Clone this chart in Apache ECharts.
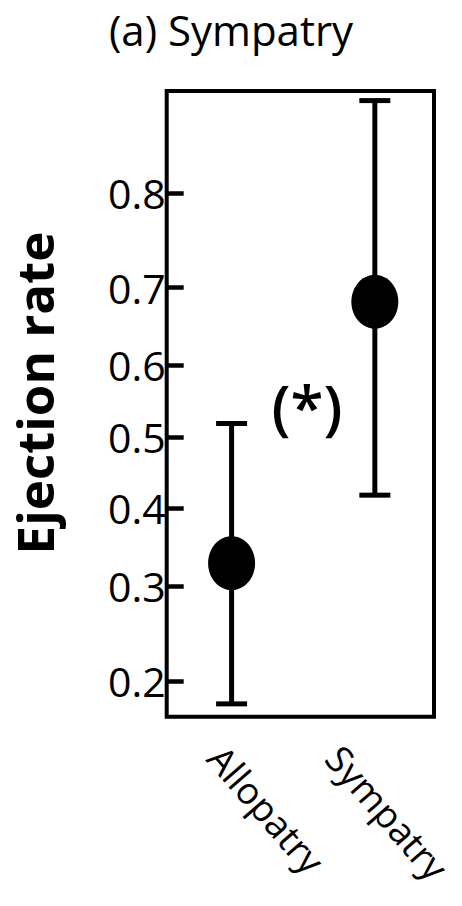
<!DOCTYPE html>
<html>
<head>
<meta charset="utf-8">
<script src="https://cdn.jsdelivr.net/npm/echarts@6/dist/echarts.min.js"></script>
<style>
html,body{margin:0;padding:0;background:#fff;}
#chart{width:462px;height:906px;}
</style>
</head>
<body>
<div id="chart"></div>
<script>
// ---- data ----
const categories = ['Allopatry', 'Sympatry'];
const means = [0.328, 0.683];
const lowerCI = [0.180, 0.418];
const upperCI = [0.519, 0.871];
const yTicks = [0.2, 0.3, 0.4, 0.5, 0.6, 0.7, 0.8];
const yRange = [0.1695, 0.877];
const titleText = '(a) Sympatry';
const yAxisTitle = 'Ejection rate';
const annotation = '(*)';

const logit = p => Math.log(p / (1 - p));
const FONT = "'Open Sans', 'Liberation Sans', sans-serif";

const chart = echarts.init(document.getElementById('chart'), null, {renderer: 'svg'});

const errData = categories.map((c, i) => [i, logit(lowerCI[i]), logit(upperCI[i])]);
const meanData = categories.map((c, i) => [i, logit(means[i])]);
const tickVals = yTicks.map(logit);

chart.setOption({
  animation: false,
  backgroundColor: '#fff',
  title: {
    text: titleText,
    left: 'center',
    top: 3,
    textStyle: {fontFamily: FONT, fontSize: 42, fontWeight: 'normal', color: '#000'}
  },
  grid: {
    left: 166.7, right: 28, top: 91, bottom: 189.3,
    containLabel: false, outerBoundsMode: 'none',
    show: true, borderColor: '#000', borderWidth: 4, backgroundColor: 'transparent'
  },
  xAxis: [{
    type: 'value', min: -0.453, max: 1.413,
    axisLine: {show: false, onZero: false}, axisTick: {show: false}, axisLabel: {show: false},
    splitLine: {show: false}
  }, {
    type: 'value', min: -0.418, max: 1.847, position: 'bottom',
    axisLine: {show: false, onZero: false}, axisTick: {show: false}, splitLine: {show: false},
    axisLabel: {
      customValues: [0, 1],
      formatter: v => categories[Math.round(v)],
      rotate: -49, margin: 34, lineHeight: 36,
      fontFamily: FONT, fontSize: 37, color: '#000'
    }
  }],
  yAxis: {
    type: 'value', min: logit(yRange[0]), max: logit(yRange[1]),
    axisLine: {show: false, onZero: false},
    splitLine: {show: false},
    axisTick: {
      show: true, inside: true, length: 17, customValues: tickVals,
      lineStyle: {color: '#000', width: 4.5}
    },
    axisLabel: {
      customValues: tickVals,
      formatter: v => {
        let best = 0;
        tickVals.forEach((t, i) => { if (Math.abs(t - v) < Math.abs(tickVals[best] - v)) best = i; });
        return yTicks[best].toFixed(1);
      },
      margin: 1, fontFamily: FONT, fontSize: 41, color: '#000'
    }
  },
  graphic: [{
    type: 'text',
    x: 34, y: 393, rotation: Math.PI / 2,
    style: {
      text: yAxisTitle, fontFamily: FONT, fontSize: 51, fontWeight: 'bold',
      fill: '#000', align: 'center', verticalAlign: 'middle'
    }
  }, {
    type: 'text',
    x: 307, y: 406,
    style: {
      text: annotation, fontFamily: FONT, fontSize: 60, fontWeight: 600,
      fill: '#000', align: 'center', verticalAlign: 'middle'
    }
  }],
  series: [{
    type: 'custom',
    xAxisIndex: 0,
    data: errData,
    renderItem: (params, api) => {
      const lo = api.coord([api.value(0), api.value(1)]);
      const hi = api.coord([api.value(0), api.value(2)]);
      const cap = 15.5;
      return {
        type: 'group',
        children: [
          {type: 'line', shape: {x1: lo[0], y1: lo[1], x2: hi[0], y2: hi[1]}, style: {stroke: '#000', lineWidth: 5}},
          {type: 'line', shape: {x1: lo[0] - cap, y1: lo[1], x2: lo[0] + cap, y2: lo[1]}, style: {stroke: '#000', lineWidth: 5}},
          {type: 'line', shape: {x1: hi[0] - cap, y1: hi[1], x2: hi[0] + cap, y2: hi[1]}, style: {stroke: '#000', lineWidth: 5}}
        ]
      };
    },
    z: 2
  }, {
    type: 'scatter',
    xAxisIndex: 0,
    data: meanData,
    symbol: 'circle',
    symbolSize: [47, 54],
    itemStyle: {color: '#000', opacity: 1},
    emphasis: {disabled: true},
    z: 3
  }]
});
</script>
</body>
</html>
